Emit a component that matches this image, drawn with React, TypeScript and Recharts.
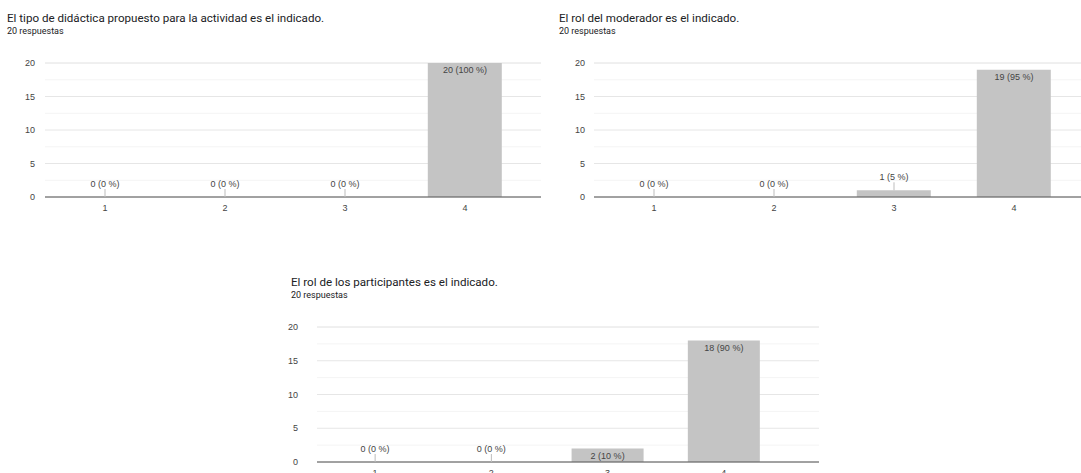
import React from 'react';
import { ComposedChart, Bar, Line, XAxis, YAxis, CartesianGrid, LabelList } from 'recharts';

const categories = ['1', '2', '3', '4'];
const didacticaCounts = [0, 0, 0, 20];
const moderadorCounts = [0, 0, 1, 19];
const participantesCounts = [0, 0, 2, 18];
const totalResponses = 20;
const majorTicks = [0, 5, 10, 15, 20];
const minorTicks = [2.5, 7.5, 12.5, 17.5];

const titles = [
  'El tipo de didáctica propuesto para la actividad es el indicado.',
  'El rol del moderador es el indicado.',
  'El rol de los participantes es el indicado.',
];
const subtitle = '20 respuestas';

const CHART_FONT = '"Liberation Sans", Arial, sans-serif';
const TITLE_FONT = 'Roboto, "Noto Sans", sans-serif';

function buildData(counts: number[]) {
  return categories.map((c, i) => ({ name: c, value: counts[i] }));
}

function BarValueLabel(props: any) {
  const { x, y, value } = props;
  const v = Number(value);
  const pct = Math.round((v / totalResponses) * 100);
  const text = `${v} (${pct} %)`;
  const cx = Number(x);
  const top = Number(y);
  if (v >= 2) {
    return (
      <text x={cx} y={top + 7} textAnchor="middle" dominantBaseline="central" fontSize={9} fill="#444" fontFamily={CHART_FONT}>
        {text}
      </text>
    );
  }
  return (
    <g>
      <line x1={cx} x2={cx} y1={top} y2={top - 8} stroke="#bdbdbd" strokeWidth={1} />
      <text x={cx} y={top - 13} textAnchor="middle" dominantBaseline="central" fontSize={9} fill="#444" fontFamily={CHART_FONT}>
        {text}
      </text>
    </g>
  );
}

type PanelProps = {
  counts: number[];
  width: number;
  height: number;
  margin: { top: number; right: number; bottom: number; left: number };
  padRight: number;
  yTickMargin: number;
};

function Panel({ counts, width, height, margin, padRight, yTickMargin }: PanelProps) {
  const data = buildData(counts);
  return (
    <ComposedChart width={width} height={height} data={data} margin={margin} barCategoryGap="19%">
      <CartesianGrid yAxisId="minor" vertical={false} stroke="#f4f4f4" />
      <CartesianGrid yAxisId="major" vertical={false} stroke="#e6e6e6" />
      <XAxis
        dataKey="name"
        height={20}
        padding={{ left: 0, right: padRight }}
        tickLine={false}
        tickSize={0}
        tickMargin={8}
        axisLine={{ stroke: '#555', strokeWidth: 1 }}
        tick={{ fontSize: 9, fill: '#444', fontFamily: CHART_FONT }}
      />
      <YAxis yAxisId="minor" hide domain={[0, 20]} ticks={minorTicks} allowDataOverflow />
      <YAxis
        yAxisId="major"
        width={30}
        domain={[0, 20]}
        ticks={majorTicks}
        interval={0}
        axisLine={false}
        tickLine={false}
        tickSize={0}
        tickMargin={yTickMargin}
        tick={{ fontSize: 9, fill: '#444', fontFamily: CHART_FONT }}
      />
      <Bar yAxisId="major" dataKey="value" fill="#c4c4c4" isAnimationActive={false} />
      <Line
        yAxisId="major"
        dataKey="value"
        stroke="none"
        dot={false}
        activeDot={false}
        legendType="none"
        isAnimationActive={false}
      >
        <LabelList dataKey="value" content={BarValueLabel} />
      </Line>
    </ComposedChart>
  );
}

function Title({ left, top, text }: { left: number; top: number; text: string }) {
  return (
    <div style={{ position: 'absolute', left, top }}>
      <div style={{ fontFamily: TITLE_FONT, fontSize: 11.6, lineHeight: '14px', color: '#202124', whiteSpace: 'nowrap' }}>{text}</div>
      <div style={{ fontFamily: TITLE_FONT, fontSize: 9, lineHeight: '11px', color: '#202124', marginTop: 1, whiteSpace: 'nowrap' }}>{subtitle}</div>
    </div>
  );
}

export default function App() {
  return (
    <div
      style={{
        position: 'fixed',
        left: 0,
        top: 0,
        width: 1081,
        height: 473,
        background: '#fff',
        overflow: 'hidden',
      }}
    >
      <Title left={7} top={11} text={titles[0]} />
      <Title left={559} top={11} text={titles[1]} />
      <Title left={291} top={275} text={titles[2]} />

      <div style={{ position: 'absolute', left: 0, top: 50 }}>
        <Panel
          counts={didacticaCounts}
          width={560}
          height={175}
          margin={{ top: 13, right: 19, bottom: 8, left: 15 }}
          padRight={16}
          yTickMargin={10}
        />
      </div>
      <div style={{ position: 'absolute', left: 540, top: 50 }}>
        <Panel
          counts={moderadorCounts}
          width={560}
          height={175}
          margin={{ top: 13, right: 10, bottom: 8, left: 24 }}
          padRight={16}
          yTickMargin={9}
        />
      </div>
      <div style={{ position: 'absolute', left: 260, top: 314 }}>
        <Panel
          counts={participantesCounts}
          width={600}
          height={175}
          margin={{ top: 13, right: 41, bottom: 7, left: 27 }}
          padRight={37}
          yTickMargin={19}
        />
      </div>
    </div>
  );
}
